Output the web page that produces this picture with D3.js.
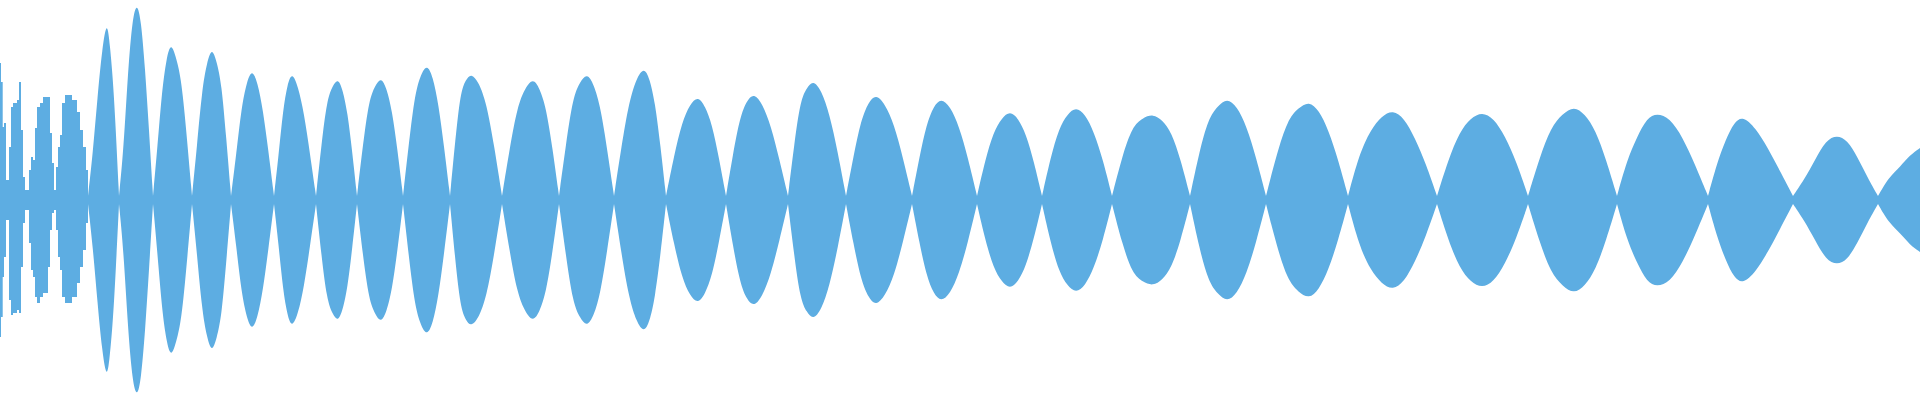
<!DOCTYPE html>
<html>
<head>
<meta charset="utf-8">
<script src="https://cdn.jsdelivr.net/npm/d3@7"></script>
<style>
    body { margin: 0; background: #fff; }
    svg { display: block; }
</style>
</head>
<body>
<svg width="1920" height="400"></svg>
<script>
// noisy attack at the start: sample position, upper and lower peak
const headT = [0, 1, 2.7, 4, 6, 9, 11, 13, 17, 19, 21, 23, 25, 29, 31, 33, 35, 37, 40, 43, 48, 50, 52, 54, 56, 58, 60, 62, 65, 72, 77, 80, 83, 86, 88];
const headTop = [0.685, 0.59, 0.365, 0.385, 0.10, 0.265, 0.465, 0.485, 0.50, 0.59, 0.35, 0.115, 0.05, 0.15, 0.215, 0.20, 0.36, 0.465, 0.485, 0.515, 0.515, 0.335, 0.185, 0.05, 0.165, 0.265, 0.325, 0.485, 0.525, 0.50, 0.44, 0.35, 0.265, 0.15, 0.02];
const headBottom = [0.685, 0.585, 0.385, 0.285, 0.10, 0.50, 0.575, 0.565, 0.55, 0.565, 0.335, 0.115, 0.05, 0.215, 0.35, 0.385, 0.485, 0.515, 0.485, 0.465, 0.335, 0.15, 0.065, 0.05, 0.15, 0.285, 0.35, 0.485, 0.515, 0.485, 0.415, 0.335, 0.25, 0.115, 0.02];

// beating envelope: nodes and peaks of each lobe
const nodeT = [88, 119, 153, 192, 231, 274, 316, 357, 403, 450, 502, 559, 614, 666, 726, 788, 846, 912, 977, 1042, 1112, 1190, 1266, 1348, 1437, 1528, 1617, 1708, 1793, 1878];
const peakT = [107, 137, 171, 212, 252, 292, 338, 381, 427, 471, 533, 587, 644, 698, 754, 813, 876, 941, 1010, 1076, 1153, 1227, 1309, 1393, 1482, 1574, 1657, 1743, 1837];
const peakAmp = [0.905, 0.99, 0.79, 0.765, 0.655, 0.64, 0.61, 0.615, 0.68, 0.635, 0.61, 0.635, 0.665, 0.52, 0.535, 0.60, 0.53, 0.51, 0.445, 0.465, 0.43, 0.51, 0.495, 0.45, 0.44, 0.47, 0.435, 0.42, 0.325];
// rising flank at 1/4, 1/2, 3/4 of the way from node to peak
const riseLow = [0.23, 0.25, 0.27, 0.27, 0.23, 0.22, 0.28, 0.28, 0.29, 0.30, 0.26, 0.28, 0.27, 0.22, 0.23, 0.28, 0.22, 0.21, 0.20, 0.21, 0.22, 0.24, 0.23, 0.23, 0.20, 0.21, 0.20, 0.18, 0.10];
const riseAmp = [0.515, 0.65, 0.55, 0.55, 0.465, 0.45, 0.50, 0.50, 0.535, 0.54, 0.47, 0.515, 0.49, 0.39, 0.415, 0.50, 0.40, 0.38, 0.34, 0.36, 0.37, 0.41, 0.40, 0.35, 0.34, 0.365, 0.315, 0.30, 0.20];
const riseHigh = [0.76, 0.91, 0.71, 0.69, 0.59, 0.58, 0.57, 0.57, 0.63, 0.60, 0.56, 0.59, 0.61, 0.48, 0.50, 0.56, 0.49, 0.47, 0.41, 0.43, 0.41, 0.47, 0.46, 0.42, 0.41, 0.43, 0.41, 0.39, 0.30];
// falling flank at 1/4, 1/2, 3/4 of the way from peak to node
const fallHigh = [0.77, 0.90, 0.71, 0.69, 0.59, 0.57, 0.55, 0.56, 0.62, 0.59, 0.56, 0.58, 0.61, 0.47, 0.48, 0.55, 0.48, 0.47, 0.41, 0.43, 0.40, 0.47, 0.45, 0.41, 0.41, 0.43, 0.41, 0.36, 0.30];
const fallAmp = [0.60, 0.665, 0.60, 0.585, 0.45, 0.435, 0.44, 0.45, 0.48, 0.485, 0.465, 0.465, 0.49, 0.38, 0.37, 0.43, 0.38, 0.37, 0.33, 0.34, 0.34, 0.37, 0.35, 0.31, 0.32, 0.35, 0.315, 0.26, 0.215];
const fallLow = [0.33, 0.35, 0.32, 0.31, 0.24, 0.23, 0.24, 0.25, 0.26, 0.27, 0.26, 0.25, 0.27, 0.21, 0.20, 0.24, 0.21, 0.21, 0.19, 0.20, 0.20, 0.21, 0.20, 0.18, 0.19, 0.20, 0.175, 0.14, 0.11];
const nodeAmp = 0.02;

// last lobe, cut off by the right edge
const tailT = [1878, 1889, 1900, 1910, 1920];
const tailAmp = [0.02, 0.115, 0.165, 0.225, 0.26];

const color = "#5dade2";

const svg = d3.select("svg"),
    width = +svg.attr("width"),
    height = +svg.attr("height");

const x = d3.scaleLinear().domain([0, 1920]).range([0, width]);
const y = d3.scaleLinear().domain([-1, 1]).range([height, 0]);

const g = svg.append("g");

// head: jagged, so step it
const head = headT.map((t, i) => ({ t: t, top: headTop[i], bottom: headBottom[i] }));
g.append("path")
    .datum(head)
    .attr("fill", color)
    .attr("d", d3.area()
        .curve(d3.curveStepAfter)
        .x(d => x(d.t))
        .y0(d => y(-d.bottom))
        .y1(d => y(d.top)));

// one smooth area per lobe so the nodes stay pointed
const lobes = peakT.map((p, i) => {
    const a = nodeT[i], b = nodeT[i + 1];
    const at = (from, to, f) => from + (to - from) * f;
    return [
        { t: a, amp: nodeAmp },
        { t: at(a, p, 0.25), amp: riseLow[i] },
        { t: at(a, p, 0.5), amp: riseAmp[i] },
        { t: at(a, p, 0.75), amp: riseHigh[i] },
        { t: p, amp: peakAmp[i] },
        { t: at(p, b, 0.25), amp: fallHigh[i] },
        { t: at(p, b, 0.5), amp: fallAmp[i] },
        { t: at(p, b, 0.75), amp: fallLow[i] },
        { t: b, amp: nodeAmp }
    ];
});
lobes.push(tailT.map((t, i) => ({ t: t, amp: tailAmp[i] })));

const lobeArea = d3.area()
    .curve(d3.curveBasis)
    .x(d => x(d.t))
    .y0(d => y(-d.amp))
    .y1(d => y(d.amp));

g.selectAll("path.lobe")
    .data(lobes)
    .enter()
    .append("path")
    .attr("class", "lobe")
    .attr("fill", color)
    .attr("d", lobeArea);
</script>
</body>
</html>
